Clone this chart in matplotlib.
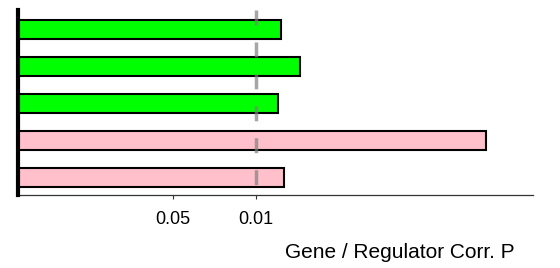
import numpy as np
import matplotlib
matplotlib.use("Agg")
import matplotlib.pyplot as plt

plt.rcParams['font.family'] = ['Liberation Sans', 'DejaVu Sans']

# Data (top to bottom)
regulators = ["reg1", "reg2", "reg3", "reg4", "reg5"]
corr_p = [0.0062, 0.0043, 0.0066, 0.000118, 0.0059]
bar_colors = ["#00FF00", "#00FF00", "#00FF00", "#FFC0CB", "#FFC0CB"]
tick_p = [0.05, 0.01]
tick_labels = ["0.05", "0.01"]
threshold_p = 0.01

scores = -np.log10(np.array(corr_p))
n = len(regulators)
ypos = np.arange(n)[::-1]

fig = plt.figure(figsize=(5.6, 2.68), dpi=100)
ax = fig.add_axes([17.6 / 560, 73 / 268, (533 - 17.6) / 560, (195 - 10) / 268])

ax.barh(ypos, scores, height=0.5, color=bar_colors, edgecolor="black",
        linewidth=1.5, zorder=2)

ylo, yhi = -0.47, n - 1 + 0.53
thr = -np.log10(threshold_p)
ax.plot([thr, thr], [yhi, ylo], color="#808080", alpha=0.7, linewidth=2.5,
        linestyle=(0, (4.3, 4.9)), zorder=3)

ax.set_xlim(0, 4.32)
ax.set_ylim(ylo, yhi)

ax.set_xticks(-np.log10(np.array(tick_p)))
ax.set_xticklabels(tick_labels, fontsize=13)
ax.set_yticks([])
ax.tick_params(axis="x", length=3, width=0.8, color="#333333", pad=8.5)

for s in ["top", "right"]:
    ax.spines[s].set_visible(False)
ax.spines["left"].set_linewidth(3)
ax.spines["left"].set_color("black")
ax.spines["left"].set_zorder(4)
ax.spines["bottom"].set_linewidth(0.9)
ax.spines["bottom"].set_color("#333333")

fig.text(515 / 560, 10 / 268, "Gene / Regulator Corr. P", ha="right",
         va="baseline", fontsize=15)

fig.savefig("out.png", dpi=100)
